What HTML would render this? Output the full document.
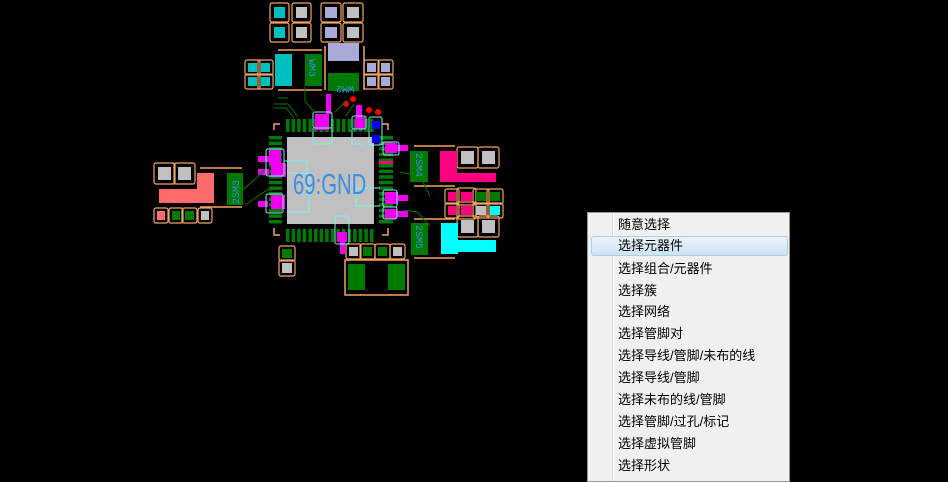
<!DOCTYPE html>
<html><head><meta charset="utf-8"><style>
html,body{margin:0;padding:0;background:#000;width:948px;height:480px;overflow:hidden}
svg{position:absolute;left:0;top:0}
.menu{position:absolute;left:587px;top:212px;width:203px;height:270px;background:#f0f0f0;border:1px solid #979797;box-sizing:border-box;font-family:"Liberation Sans","Noto Sans CJK SC",sans-serif;font-size:13px;color:#000}
.gut{position:absolute;left:24px;top:0;width:1px;height:100%;background:#d8d8d8;border-right:1px solid #fff}
.it{position:absolute;left:30px;height:20px;line-height:20px}
.hl{position:absolute;left:3px;top:23px;width:197px;height:20px;border:1px solid #aecce6;border-radius:3px;box-sizing:border-box;background:linear-gradient(#eaf3fb,#cfe3f4)}
</style></head><body>
<svg width="948" height="480" viewBox="0 0 948 480" font-family="Liberation Mono,monospace">
<g id="pads"></g>
<g fill="none" stroke="#f4a460" stroke-width="1.5">
<rect x="345" y="260" width="63" height="35"/>
<line x1="278" y1="50" x2="322" y2="50"/><line x1="278" y1="90" x2="322" y2="90"/>
<line x1="325" y1="46" x2="325" y2="90"/><line x1="364" y1="46" x2="364" y2="90"/>
<line x1="200" y1="168" x2="242" y2="168"/><line x1="200" y1="207" x2="242" y2="207"/>
<line x1="414" y1="146" x2="455" y2="146"/><line x1="414" y1="186" x2="455" y2="186"/>
<line x1="414" y1="219" x2="455" y2="219"/><line x1="414" y1="258" x2="455" y2="258"/>
<path d="M274 130v-6h6M274 228v7h6M388 130v-6h-6M388 228v7h-6"/>
</g>
<g fill="#c0c0c0"><rect x="287" y="137" width="87" height="87"/></g>
<g fill="#00bfbf"><rect x="275" y="54" width="17" height="32"/></g>
<g fill="#aaaad8"><rect x="328" y="43" width="31" height="18"/></g>
<g fill="#007a00">
<rect x="305" y="54" width="17" height="32"/><rect x="328" y="73" width="31" height="18"/>
<rect x="227" y="173" width="16" height="32"/>
<rect x="410" y="151" width="18" height="31"/><rect x="411" y="223" width="17" height="32"/>
<rect x="348" y="264" width="17" height="26"/><rect x="388" y="264" width="17" height="26"/>
</g>
<g fill="#ff6a6a"><rect x="197" y="173" width="17" height="30"/><rect x="159" y="189" width="55" height="14"/></g>
<g fill="#ff0080"><rect x="440" y="151" width="17" height="31"/><rect x="457" y="173" width="39" height="9"/></g>
<g fill="#00ffff"><rect x="441" y="223" width="17" height="31"/><rect x="458" y="240" width="38" height="12"/></g>
<g fill="#007a00" id="pins"></g>
<g fill="#f000f0">
<rect x="315" y="114" width="14" height="16"/><rect x="355" y="117" width="10" height="12"/><rect x="356" y="105" width="6" height="12"/>
<rect x="269" y="150" width="12" height="15"/><rect x="271" y="163" width="15" height="14"/><rect x="271" y="195" width="14" height="14"/>
<rect x="258" y="156" width="11" height="6"/><rect x="258" y="169" width="11" height="6"/><rect x="258" y="201" width="10" height="6"/>
<rect x="385" y="143" width="12" height="10"/><rect x="397" y="145" width="11" height="6"/>
<rect x="385" y="192" width="13" height="12"/><rect x="398" y="195" width="10" height="6"/>
<rect x="385" y="209" width="12" height="10"/><rect x="397" y="211" width="11" height="6"/>
<rect x="337" y="232" width="10" height="10"/><rect x="340" y="242" width="5" height="12"/>
<rect x="326" y="94" width="5" height="20"/>
</g>
<rect x="379" y="161" width="14" height="3" fill="#ff0080"/>
<g fill="#0000ff"><rect x="372" y="121" width="8" height="8"/><rect x="372" y="135" width="8" height="8"/></g>
<g fill="#ff0000"><circle cx="346" cy="104" r="3"/><circle cx="353" cy="99" r="3"/><circle cx="369" cy="110" r="3"/><circle cx="378" cy="112" r="3"/></g>
<g fill="none" stroke="#80f0f0" stroke-width="1">
<rect x="313" y="112" width="19" height="16" rx="2"/><rect x="352" y="116" width="14" height="13" rx="2"/><rect x="369" y="117" width="13" height="28" rx="2"/>
<rect x="266" y="149" width="18" height="27" rx="2"/><rect x="266" y="194" width="17" height="19" rx="2"/>
<rect x="383" y="142" width="16" height="13" rx="2"/><rect x="383" y="190" width="14" height="17" rx="2"/><rect x="383" y="207" width="14" height="12" rx="2"/>
<rect x="335" y="216" width="14" height="28" rx="2"/>
<path d="M313 128v13a3 3 0 003 3h13a3 3 0 003-3v-13M352 129v15h12M284 161h23v34M287 173h22v39h-22M380 188h-24v18h24"/>
</g>
<g stroke="#007a00" fill="none" stroke-width="1">
<path d="M305 87v14l10 12M274 104h14l10 13M274 108h12l8 10M278 98h10M243 190l22-20M245 205l22-15h6M430 196l-10-20-20-4M430 226l-13-14-14-2M335 112l12-12M346 116l8-12"/>
</g>
<text transform="translate(293,194) scale(0.7,1)" font-family="Liberation Sans,sans-serif" font-size="29" fill="#3a8ee6">69:GND</text>
<g font-size="10" fill="#3a8ee6">
<text transform="translate(309,59) rotate(90)">WM3</text>
<text transform="translate(354,86) rotate(180)">WM2</text>
<text transform="translate(239,204) rotate(-90)">2SM3</text>
<text transform="translate(416,153) rotate(90)">2SM4</text>
<text transform="translate(416,225) rotate(90)">2SM5</text>
</g>
</svg>
<script>
var P=[[274,7,11,11,'#00bfbf'],[296,7,11,11,'#c0c0c0'],[274,27,11,11,'#00bfbf'],[296,27,11,11,'#c0c0c0'],
[325,7,12,11,'#aaaad8'],[347,7,12,11,'#c0c0c0'],[325,27,12,11,'#aaaad8'],[347,27,12,11,'#c0c0c0'],
[248,63,9,9,'#00bfbf'],[261,63,9,9,'#00bfbf'],[248,77,9,9,'#00bfbf'],[261,77,9,9,'#00bfbf'],
[367,63,9,9,'#aaaad8'],[381,63,9,9,'#aaaad8'],[367,77,9,9,'#aaaad8'],[381,77,9,9,'#aaaad8'],
[158,167,13,13,'#c0c0c0'],[178,167,13,13,'#c0c0c0'],
[157,211,8,9,'#ff6a6a'],[172,211,8,9,'#007a00'],[185,211,9,9,'#007a00'],[201,211,8,9,'#c0c0c0'],
[461,151,13,13,'#c0c0c0'],[482,151,13,13,'#c0c0c0'],
[448,192,8,9,'#ff0080'],[461,192,11,9,'#ff0080'],[476,192,10,9,'#007a00'],[490,192,10,9,'#007a00'],
[448,206,8,9,'#ff0080'],[461,206,11,9,'#ff0080'],[476,206,10,9,'#c0c0c0'],[490,206,10,9,'#00ffff'],
[461,220,13,13,'#c0c0c0'],[482,220,13,13,'#c0c0c0'],
[349,247,9,9,'#c0c0c0'],[363,247,9,9,'#007a00'],[378,247,9,9,'#007a00'],[393,247,9,9,'#c0c0c0'],
[282,249,10,9,'#007a00'],[282,263,10,10,'#c0c0c0']];
var s='';P.forEach(function(p){var m=(p[2]>10)?4:3;s+='<rect x="'+(p[0]-m)+'" y="'+(p[1]-m)+'" width="'+(p[2]+2*m)+'" height="'+(p[3]+2*m)+'" rx="2" fill="none" stroke="#f4a460" stroke-width="1.2"/><rect x="'+p[0]+'" y="'+p[1]+'" width="'+p[2]+'" height="'+p[3]+'" fill="'+p[4]+'"/>';});
document.getElementById('pads').innerHTML=s;
var g=document.getElementById('pins');s='';
for(var i=0;i<16;i++){var p=286+i*5.6;s+='<rect x="'+p+'" y="119" width="3.5" height="13"/><rect x="'+p+'" y="229" width="3.5" height="13"/>';
var q=136+i*5.6;s+='<rect x="269" y="'+q+'" width="13" height="3.5"/><rect x="379" y="'+q+'" width="14" height="3.5"/>';}
g.innerHTML=s;
</script>
<div class="menu"><div class="gut"></div><div class="hl"></div>
<div class="it" style="top:2px">随意选择</div>
<div class="it" style="top:23px">选择元器件</div>
<div class="it" style="top:46px">选择组合/元器件</div>
<div class="it" style="top:68px">选择簇</div>
<div class="it" style="top:89px">选择网络</div>
<div class="it" style="top:111px">选择管脚对</div>
<div class="it" style="top:133px">选择导线/管脚/未布的线</div>
<div class="it" style="top:155px">选择导线/管脚</div>
<div class="it" style="top:177px">选择未布的线/管脚</div>
<div class="it" style="top:199px">选择管脚/过孔/标记</div>
<div class="it" style="top:221px">选择虚拟管脚</div>
<div class="it" style="top:243px">选择形状</div>
</div>
</body></html>
